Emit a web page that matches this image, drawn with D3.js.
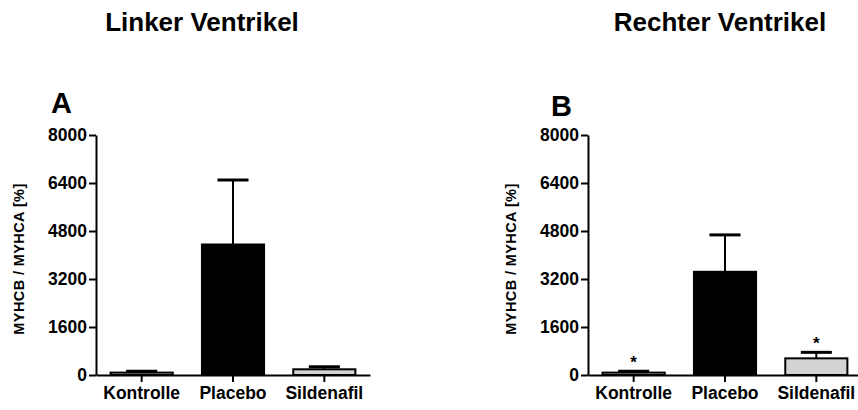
<!DOCTYPE html>
<html>
<head>
<meta charset="utf-8">
<script src="https://cdn.jsdelivr.net/npm/d3@7"></script>
<style>
  body { margin: 0; background: #fff; }
  svg { display: block; font-family: Arial, "Liberation Sans", sans-serif; }
</style>
</head>
<body>
<svg id="chart" width="858" height="410"></svg>
<script>
// ---- data ----
const categories = ["Kontrolle", "Placebo", "Sildenafil"];
const leftMeans = [80, 4350, 190];
const leftErrors = [45, 2150, 85];
const rightMeans = [80, 3440, 555];
const rightErrors = [45, 1230, 200];
const rightSignificant = [true, false, true];
const leftSignificant = [false, false, false];
const tickValues = [0, 1600, 3200, 4800, 6400, 8000];
const barFills = ["#d3d3d3", "#000000", "#d3d3d3"];
const panelTitles = ["Linker Ventrikel", "Rechter Ventrikel"];
const panelLetters = ["A", "B"];
const yLabel = "MYHCB / MYHCA [%]";

const svg = d3.select("#chart");

const y = d3.scaleLinear().domain([0, 8000]).range([375, 135]);

const panels = [
  { x0: 96, means: leftMeans, errs: leftErrors, sig: leftSignificant, title: panelTitles[0], titleX: 202, letter: panelLetters[0], letterX: 51, letterY: 113, labelX: 24 },
  { x0: 588, means: rightMeans, errs: rightErrors, sig: rightSignificant, title: panelTitles[1], titleX: 720, letter: panelLetters[1], letterX: 551, letterY: 116, labelX: 516 }
];

panels.forEach(p => {
  const x = d3.scaleBand().domain(categories).range([p.x0, p.x0 + 274])
    .paddingInner(0.32).paddingOuter(0.16);
  const g = svg.append("g");

  // title
  g.append("text").attr("x", p.titleX).attr("y", 31).attr("text-anchor", "middle")
    .attr("font-size", 26).attr("font-weight", "bold").text(p.title);
  // letter
  g.append("text").attr("x", p.letterX).attr("y", p.letterY)
    .attr("font-size", 29).attr("font-weight", "bold").text(p.letter);
  // y label
  g.append("text").attr("transform", `translate(${p.labelX},259) rotate(-90)`)
    .attr("text-anchor", "middle").attr("font-size", 14.5).attr("font-weight", "bold")
    .attr("letter-spacing", 0.4)
    .text(yLabel);

  const data = categories.map((c, i) => ({ c, m: p.means[i], e: p.errs[i], s: p.sig[i], f: barFills[i] }));
  const bw = x.bandwidth();

  // error bars (behind bars)
  data.forEach(d => {
    const cx = x(d.c) + bw / 2;
    g.append("line").attr("x1", cx).attr("x2", cx).attr("y1", y(d.m)).attr("y2", y(d.m + d.e))
      .attr("stroke", "#000").attr("stroke-width", 2);
    g.append("line").attr("x1", cx - bw / 4).attr("x2", cx + bw / 4)
      .attr("y1", y(d.m + d.e)).attr("y2", y(d.m + d.e))
      .attr("stroke", "#000").attr("stroke-width", 3);
    if (d.s) {
      g.append("text").attr("x", cx).attr("y", y(d.m + d.e) - 3).attr("text-anchor", "middle")
        .attr("font-size", 17).attr("font-weight", "bold").text("*");
    }
  });

  g.selectAll("rect.bar").data(data).enter().append("rect")
    .attr("x", d => x(d.c)).attr("width", bw)
    .attr("y", d => y(d.m)).attr("height", d => y(0) - y(d.m))
    .attr("fill", d => d.f).attr("stroke", "#000").attr("stroke-width", 2);

  // y axis
  const ya = g.append("g").attr("transform", `translate(${p.x0},0)`)
    .call(d3.axisLeft(y).tickValues(tickValues).tickSize(7).tickSizeOuter(0).tickPadding(2).tickFormat(d3.format("d")));
  ya.selectAll("path,line").attr("stroke", "#000").attr("stroke-width", 2);
  ya.selectAll("text").attr("font-size", 17.5).attr("font-weight", "bold").attr("fill", "#000")
    .attr("font-family", "Arial, 'Liberation Sans', sans-serif");

  // x axis
  const xa = g.append("g").attr("transform", `translate(0,375)`)
    .call(d3.axisBottom(x).tickSize(7).tickSizeOuter(0).tickPadding(5));
  xa.selectAll("path,line").attr("stroke", "#000").attr("stroke-width", 2);
  xa.selectAll("text").attr("font-size", 17.5).attr("font-weight", "bold").attr("fill", "#000")
    .attr("font-family", "Arial, 'Liberation Sans', sans-serif");
});
</script>
</body>
</html>
